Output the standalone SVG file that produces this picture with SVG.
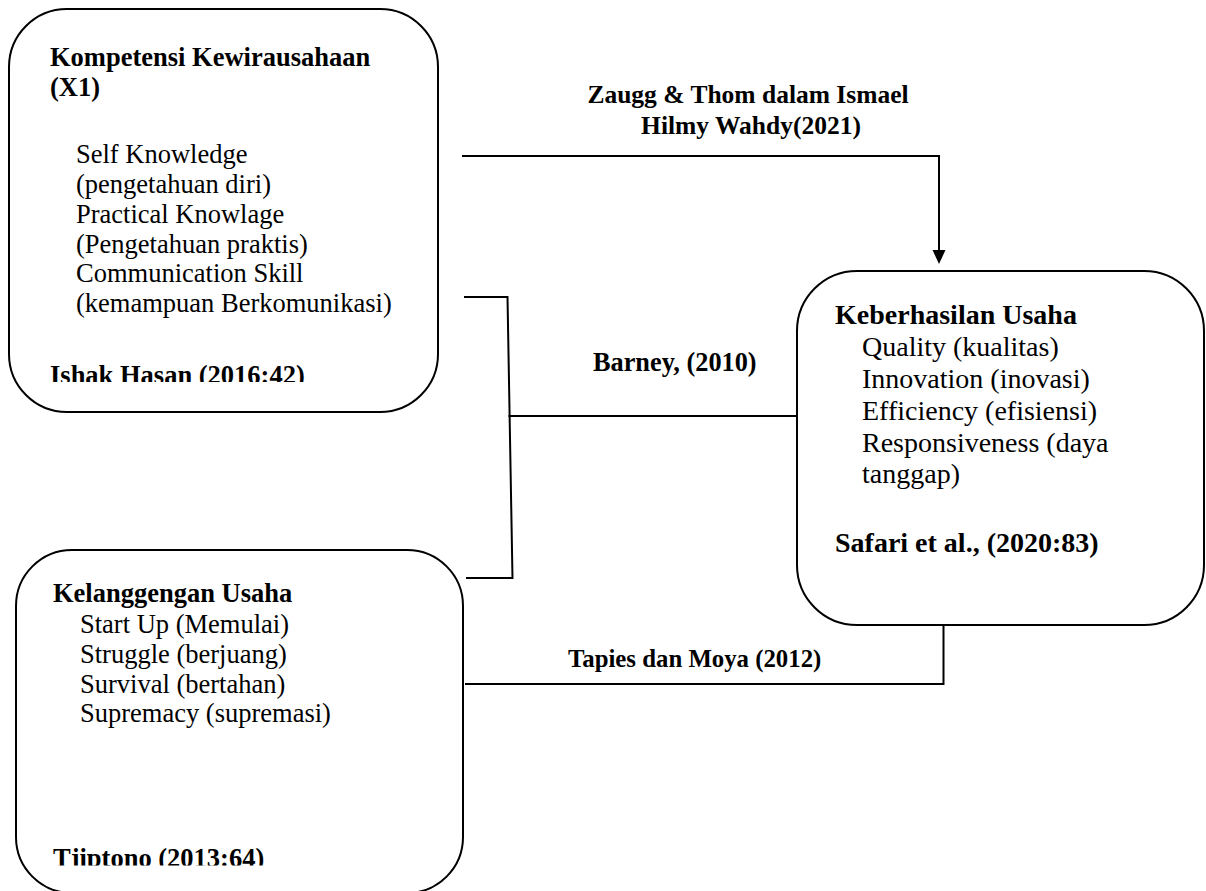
<svg xmlns="http://www.w3.org/2000/svg" width="1206" height="891" viewBox="0 0 1206 891">
<defs>
<style>
.box{fill:#fff;stroke:#000;stroke-width:2}
.ln{fill:none;stroke:#000;stroke-width:2}
text{font-family:"Liberation Serif","Times New Roman",serif;fill:#000}
.b{font-weight:bold}
.t{font-size:26.5px}
.r{font-size:28px}
</style>
<clipPath id="c1"><rect x="0" y="0" width="460" height="382"/></clipPath>
<clipPath id="c2"><rect x="0" y="540" width="470" height="325.5"/></clipPath>
</defs>
<rect width="1206" height="891" fill="#fff"/>
<g id="connectors">
<polyline class="ln" points="462,156 939,156 939,252"/>
<path d="M932.5,250 L945.5,250 L939,264 Z" fill="#000"/>
<polyline class="ln" points="464,297 507.5,297 512.5,578 466,578"/>
<line class="ln" x1="508.5" y1="416" x2="797" y2="416"/>
<polyline class="ln" points="943.5,625 943.5,684 465,684"/>
</g>
<g id="labels">
<text class="b" font-size="25.5" x="748" y="103" text-anchor="middle">Zaugg &amp; Thom dalam Ismael</text>
<text class="b" font-size="25.5" x="751" y="134" text-anchor="middle">Hilmy Wahdy(2021)</text>
<text class="b" font-size="26.3" x="593" y="371">Barney, (2010)</text>
<text class="b" font-size="24.8" x="568" y="667">Tapies dan Moya (2012)</text>
</g>
<g id="node-kompetensi">
<rect class="box" x="9" y="9" width="429" height="403" rx="58" ry="58"/>
<text class="b t" x="50" y="66">Kompetensi Kewirausahaan</text>
<text class="b t" x="50" y="95.5">(X1)</text>
<text class="t" x="76" y="163">Self Knowledge</text>
<text class="t" x="76" y="193">(pengetahuan diri)</text>
<text class="t" x="76" y="222.5">Practical Knowlage</text>
<text class="t" x="76" y="252.5">(Pengetahuan praktis)</text>
<text class="t" x="76" y="282">Communication Skill</text>
<text class="t" x="76" y="312">(kemampuan Berkomunikasi)</text>
<text class="b t" x="50" y="384" clip-path="url(#c1)">Ishak Hasan (2016:42)</text>
</g>
<g id="node-keberhasilan">
<rect class="box" x="797" y="271" width="407" height="354" rx="60" ry="60"/>
<text class="b r" x="835" y="324">Keberhasilan Usaha</text>
<text class="r" x="862" y="356">Quality (kualitas)</text>
<text class="r" x="862" y="388">Innovation (inovasi)</text>
<text class="r" x="862" y="420">Efficiency (efisiensi)</text>
<text class="r" x="862" y="451.5">Responsiveness (daya</text>
<text class="r" x="862" y="483">tanggap)</text>
<text class="b r" x="835" y="552">Safari et al., (2020:83)</text>
</g>
<g id="node-kelanggengan">
<rect class="box" x="16" y="550" width="447" height="343" rx="56" ry="56"/>
<text class="b t" x="53" y="602">Kelanggengan Usaha</text>
<text class="t" x="80" y="633">Start Up (Memulai)</text>
<text class="t" x="80" y="662.5">Struggle (berjuang)</text>
<text class="t" x="80" y="692.5">Survival (bertahan)</text>
<text class="t" x="80" y="722">Supremacy (supremasi)</text>
<text class="b t" x="53" y="867" clip-path="url(#c2)">Tjiptono (2013:64)</text>
</g>
</svg>
